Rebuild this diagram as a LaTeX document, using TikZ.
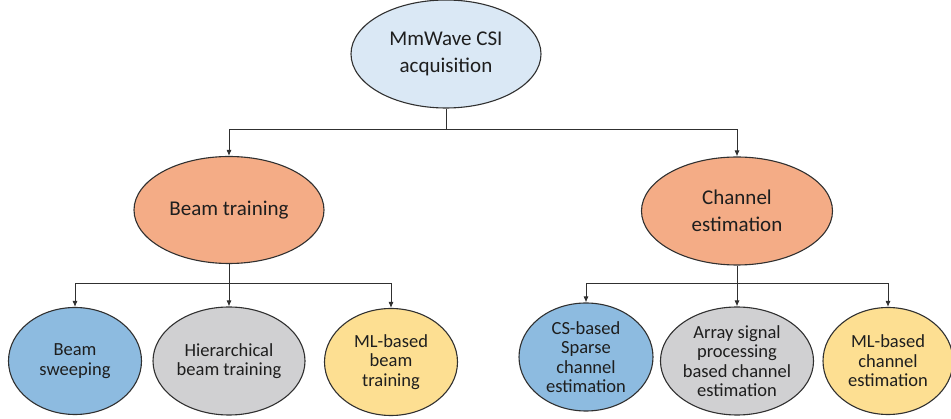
\documentclass[tikz,border=0pt]{standalone}
\usepackage{fontspec}
\setmainfont{Carlito}
\usetikzlibrary{shapes.geometric,arrows.meta}
\definecolor{topblue}{HTML}{DAE8F5}
\definecolor{salmon}{HTML}{F4AC86}
\definecolor{midblue}{HTML}{8DBBE0}
\definecolor{lgray}{HTML}{D0D0D2}
\definecolor{lyellow}{HTML}{FDDF92}
\definecolor{txt}{HTML}{1E1E1E}
\definecolor{edge}{HTML}{303030}
\tikzset{
  ell/.style={ellipse, draw=edge, line width=1.1pt, inner sep=0pt, align=center, text=txt},
  big/.style={ell, font=\fontsize{21}{27.5}\selectfont},
  small/.style={ell, font=\fontsize{18.5}{19.5}\selectfont},
  conn/.style={draw=edge, line width=0.9pt},
  arr/.style={conn, -{Latex[length=6pt,width=5pt]}}
}
\begin{document}
\begin{tikzpicture}[x=1pt,y=-1pt]
\useasboundingbox (0,0) rectangle (951,419);
\node[big, fill=topblue, minimum width=190pt, minimum height=108pt] (top) at (446,54) {MmWave CSI\\acquisition};
\node[big, fill=salmon, minimum width=190pt, minimum height=107pt] (bt) at (229,210) {Beam training};
\node[big, fill=salmon, minimum width=191pt, minimum height=108pt] (ce) at (737,211) {Channel\\estimation};
\node[small, fill=midblue, minimum width=133pt, minimum height=107pt] (bs) at (75,361) {Beam\\sweeping};
\node[small, fill=lgray, minimum width=152pt, minimum height=108pt] (hb) at (229,361) {Hierarchical\\beam training};
\node[small, fill=lyellow, minimum width=133pt, minimum height=107pt] (mlb) at (391,362) {ML-based\\beam\\training};
\node[small, fill=midblue, minimum width=134pt, minimum height=108pt] (cs) at (586,357) {CS-based\\Sparse\\channel\\estimation};
\node[small, fill=lgray, minimum width=152pt, minimum height=108pt] (as) at (737,361) {Array signal\\processing\\based channel\\estimation};
\node[small, fill=lyellow, minimum width=130pt, minimum height=107pt] (mlc) at (888,361) {ML-based\\channel\\estimation};
\coordinate (j1) at (446,129);
\coordinate (j2) at (229,283);
\coordinate (j3) at (737,283);
\draw[conn] (top) -- (j1);
\draw[arr] (j1) -| (bt.north);
\draw[arr] (j1) -| (ce.north);
\draw[conn] (bt) -- (j2);
\draw[arr] (j2) -| (bs.north);
\draw[arr] (j2) -- (hb.north);
\draw[arr] (j2) -| (mlb.north);
\draw[conn] (ce) -- (j3);
\draw[arr] (j3) -| (cs.north);
\draw[arr] (j3) -- (as.north);
\draw[arr] (j3) -| (mlc.north);
\end{tikzpicture}
\end{document}
